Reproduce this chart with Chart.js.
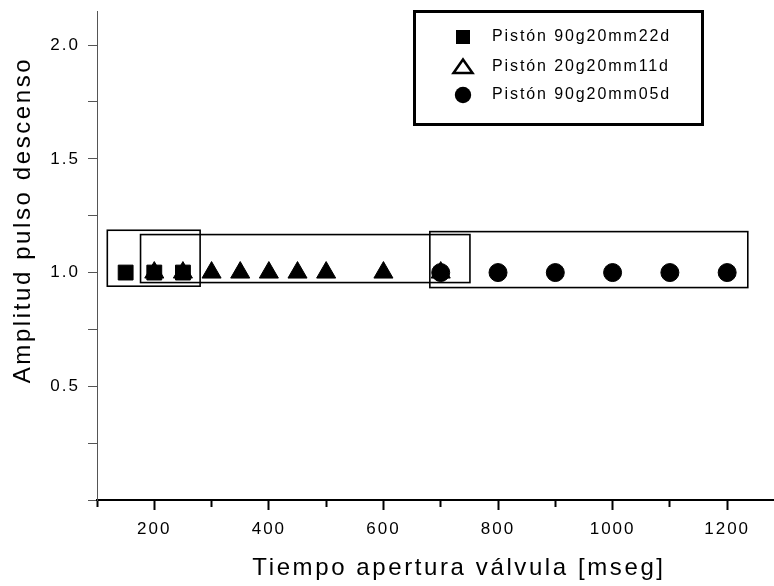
<!DOCTYPE html>
<html>
<head>
<meta charset="utf-8">
<script src="https://cdn.jsdelivr.net/npm/chart.js@4.4.1/dist/chart.umd.min.js"></script>
<style>
html,body{margin:0;padding:0;background:#fff;}
#wrap{width:774px;height:586px;position:relative;}
</style>
</head>
<body>
<div id="wrap"><canvas id="c" width="774" height="586"></canvas></div>
<script>
// ---- data ----
const seriesLabels = ['Pistón 90g20mm22d', 'Pistón 20g20mm11d', 'Pistón 90g20mm05d'];
const squareX = [150, 200, 250];
const squareY = [1.0, 1.0, 1.0];
const triangleX = [200, 250, 300, 350, 400, 450, 500, 600, 700];
const triangleY = [1.0, 1.0, 1.0, 1.0, 1.0, 1.0, 1.0, 1.0, 1.0];
const circleX = [700, 800, 900, 1000, 1100, 1200];
const circleY = [1.0, 1.0, 1.0, 1.0, 1.0, 1.0];
const xTickLabels = [200, 400, 600, 800, 1000, 1200];
const yTickLabels = [0.5, 1.0, 1.5, 2.0];
const xTitle = 'Tiempo apertura válvula [mseg]';
const yTitle = 'Amplitud pulso descenso';
// highlight boxes (data coordinates)
const boxXStart = [118, 176, 681];
const boxXEnd = [280, 751, 1236];
const boxYLow = [0.940, 0.956, 0.934];
const boxYHigh = [1.186, 1.167, 1.180];

const FONT = "'Liberation Sans', Arial, Helvetica, sans-serif";
const toPoints = (xs, ys) => xs.map((x, i) => ({x: x, y: ys[i]}));

const spacingPlugin = {
  id: 'spacing',
  beforeLayout(chart) { chart.ctx.letterSpacing = '2px'; },
  beforeDraw(chart) { chart.ctx.letterSpacing = '2px'; }
};

const decorPlugin = {
  id: 'decor',
  afterDatasetsDraw(chart) {
    const ctx = chart.ctx, xs = chart.scales.x, ys = chart.scales.y;
    ctx.save();
    ctx.strokeStyle = '#000';
    ctx.lineWidth = 1.6;
    for (let i = 0; i < boxXStart.length; i++) {
      const x0 = xs.getPixelForValue(boxXStart[i]);
      const x1 = xs.getPixelForValue(boxXEnd[i]);
      const y0 = ys.getPixelForValue(boxYHigh[i]);
      const y1 = ys.getPixelForValue(boxYLow[i]);
      ctx.strokeRect(x0, y0, x1 - x0, y1 - y0);
    }
    ctx.restore();
  },
  afterDraw(chart) {
    const ctx = chart.ctx;
    ctx.save();
    ctx.fillStyle = '#000';
    ctx.strokeStyle = '#000';
    // axis titles
    ctx.letterSpacing = '2.6px';
    ctx.font = '24px ' + FONT;
    ctx.textAlign = 'center';
    ctx.textBaseline = 'alphabetic';
    ctx.fillText(xTitle, 459, 575);
    ctx.save();
    ctx.translate(30, 220);
    ctx.rotate(-Math.PI / 2);
    ctx.fillText(yTitle, 0, 0);
    ctx.restore();
    // legend
    ctx.lineWidth = 3;
    ctx.strokeRect(414.5, 11.5, 288, 113);
    const rows = [37, 67, 95];
    const sx = 463;
    chart.data.datasets.forEach((ds, i) => {
      const y = rows[i];
      ctx.lineWidth = 2.5;
      ctx.beginPath();
      if (ds.pointStyle === 'rect') {
        ctx.rect(sx - 7, y - 7, 14, 14);
        ctx.fillStyle = '#000'; ctx.fill();
      } else if (ds.pointStyle === 'triangle') {
        ctx.moveTo(sx, y - 7.5);
        ctx.lineTo(sx + 9.5, y + 6);
        ctx.lineTo(sx - 9.5, y + 6);
        ctx.closePath();
        ctx.fillStyle = '#fff'; ctx.fill();
        ctx.stroke();
      } else {
        ctx.arc(sx, y, 8.2, 0, Math.PI * 2);
        ctx.fillStyle = '#000'; ctx.fill();
      }
      ctx.fillStyle = '#000';
      ctx.letterSpacing = '1.9px';
      ctx.font = '16px ' + FONT;
      ctx.textAlign = 'left';
      ctx.textBaseline = 'middle';
      ctx.fillText(ds.label, 492, y);
    });
    ctx.restore();
  }
};

const common = {showLine: false, pointBackgroundColor: '#000', pointBorderColor: '#000', pointBorderWidth: 1};

new Chart(document.getElementById('c'), {
  type: 'scatter',
  data: {
    datasets: [
      Object.assign({label: seriesLabels[0], data: toPoints(squareX, squareY), pointStyle: 'rect', pointRadius: 10.5, pointHoverRadius: 10.5}, common),
      Object.assign({label: seriesLabels[1], data: toPoints(triangleX, triangleY), pointStyle: 'triangle', pointRadius: 11, pointHoverRadius: 11}, common),
      Object.assign({label: seriesLabels[2], data: toPoints(circleX, circleY), pointStyle: 'circle', pointRadius: 9, pointHoverRadius: 9}, common)
    ]
  },
  options: {
    responsive: false,
    devicePixelRatio: 1,
    animation: false,
    layout: {autoPadding: false, padding: {top: 11, right: 1, left: 0, bottom: 0}},
    plugins: {legend: {display: false}, tooltip: {enabled: false}},
    scales: {
      x: {
        type: 'linear',
        min: 100, max: 1280,
        afterFit(s) { s.height = 86; s.paddingLeft = 0; s.paddingRight = 0; },
        border: {display: true, color: '#000', width: 2},
        grid: {
          drawOnChartArea: false, drawTicks: true, tickLength: 10, tickWidth: 2, tickColor: '#000',
          tickBorderDash: (c) => (c.tick && xTickLabels.includes(c.tick.value)) ? [] : [6, 40]
        },
        ticks: {
          stepSize: 100, includeBounds: false, autoSkip: false, maxRotation: 0, padding: 9,
          color: '#000', font: {family: FONT, size: 17},
          callback: (v) => xTickLabels.includes(v) ? String(v) : ''
        }
      },
      y: {
        type: 'linear',
        min: 0, max: 2.15,
        afterFit(s) { s.width = 97; s.paddingTop = 0; s.paddingBottom = 0; },
        border: {display: true, color: '#555', width: 1},
        grid: {drawOnChartArea: false, drawTicks: true, tickLength: 9, tickWidth: 1, tickColor: '#555'},
        ticks: {
          stepSize: 0.25, includeBounds: false, autoSkip: false, padding: 8,
          color: '#000', font: {family: FONT, size: 17},
          callback: (v) => yTickLabels.some(t => Math.abs(t - v) < 1e-9) ? v.toFixed(1) : ''
        }
      }
    }
  },
  plugins: [spacingPlugin, decorPlugin]
});
</script>
</body>
</html>
